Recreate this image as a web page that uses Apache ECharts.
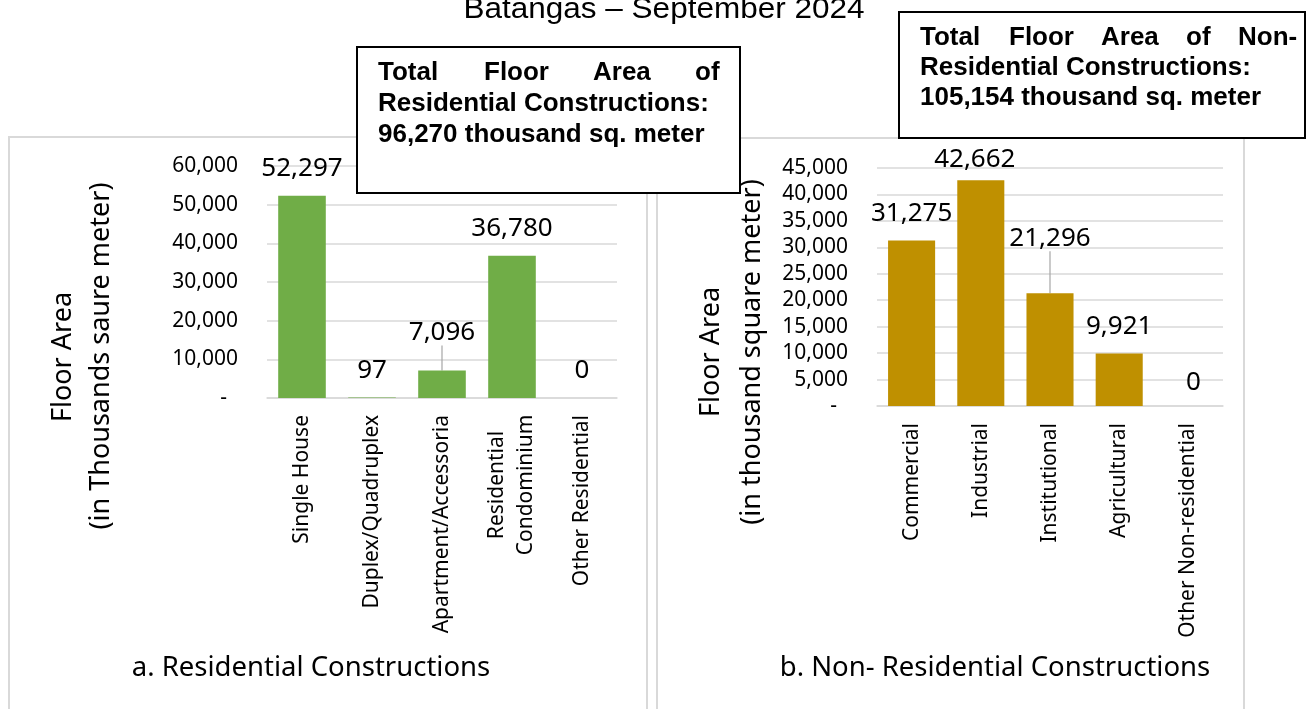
<!DOCTYPE html>
<html>
<head>
<meta charset="utf-8">
<script src="https://cdn.jsdelivr.net/npm/echarts@6/dist/echarts.min.js"></script>
<style>
  html, body { margin: 0; padding: 0; background: #fff; }
  #chart { width: 1310px; height: 709px; }
</style>
</head>
<body>
<div id="chart"></div>
<script>
// residential panel
const resCategories = ['Single House', 'Duplex/Quadruplex', 'Apartment/Accessoria', 'Residential\nCondominium', 'Other Residential'];
const resValues = [52297, 97, 7096, 36780, 0];
const resTicks = ['-', '10,000', '20,000', '30,000', '40,000', '50,000', '60,000'];
const resTotal = '96,270';

// non-residential panel
const nonResCategories = ['Commercial', 'Industrial', 'Institutional', 'Agricultural', 'Other Non-residential'];
const nonResValues = [31275, 42662, 21296, 9921, 0];
const nonResTicks = ['-', '5,000', '10,000', '15,000', '20,000', '25,000', '30,000', '35,000', '40,000', '45,000'];
const nonResTotal = '105,154';

const FONT = "'Noto Sans', sans-serif";
const ARIAL = "'Liberation Sans', Arial, sans-serif";
const GRID_LINE = '#d9d9d9';

// labels that Excel pushed away from their bars
const labelNudge = {
  'res-2': { dy: -11 },
  'non-1': { dx: -6, dy: 6 },
  'non-2': { dy: -28 },
  'non-4': { dx: 5, dy: 4 }
};
const withLeader = { 'res-2': true, 'non-2': true };

function catLabel(v) {
  if (v.indexOf('\n') < 0) return v;
  return v.split('\n').map(s => '{c|' + s + '}').join('\n');
}

function xAxisFor(idx, cats) {
  return {
    type: 'category',
    gridIndex: idx,
    data: cats,
    axisLine: { lineStyle: { color: GRID_LINE, width: 1.5 } },
    axisTick: { show: false },
    axisLabel: {
      interval: 0,
      rotate: 90,
      margin: 17,
      color: '#000',
      fontFamily: FONT,
      fontSize: 21,
      formatter: catLabel,
      rich: {
        c: { width: 140, align: 'center', color: '#000', fontFamily: FONT, fontSize: 21, lineHeight: 29 }
      }
    }
  };
}

function yAxisFor(idx, max, step, ticks) {
  return {
    type: 'value',
    gridIndex: idx,
    min: 0,
    max: max,
    interval: step,
    axisLine: { show: false },
    axisTick: { show: false },
    splitLine: { lineStyle: { color: GRID_LINE, width: 1.5 } },
    axisLabel: {
      margin: 29,
      color: '#000',
      fontFamily: FONT,
      fontSize: 21,
      formatter: (v, i) => (i === 0 ? ticks[0] + '  ' : ticks[i])
    }
  };
}

function barSeries(idx, key, values, color) {
  return {
    type: 'bar',
    xAxisIndex: idx,
    yAxisIndex: idx,
    barWidth: '68%',
    itemStyle: { color: color },
    data: values.map((v, i) => ({
      value: v,
      labelLine: { show: !!withLeader[key + '-' + i] }
    })),
    label: {
      show: true,
      position: 'top',
      distance: 14,
      color: '#000',
      fontFamily: FONT,
      fontSize: 26,
      formatter: p => p.value.toLocaleString('en-US')
    },
    labelLine: { lineStyle: { color: '#a6a6a6', width: 1.2 } },
    labelLayout: p => labelNudge[key + '-' + p.dataIndex] || {}
  };
}

function txt(x, y, text, opts) {
  return Object.assign({
    type: 'text',
    x: x,
    y: y,
    z: 20,
    style: Object.assign({
      text: text,
      fill: '#000',
      fontFamily: FONT,
      fontSize: 27,
      textAlign: 'center',
      textVerticalAlign: 'middle'
    }, opts.style || {})
  }, opts.el || {});
}

function boxLine(x, y, text) {
  return {
    type: 'text',
    x: x,
    y: y,
    z: 20,
    style: {
      text: text,
      fill: '#000',
      fontFamily: ARIAL,
      fontWeight: 'bold',
      fontSize: 26,
      textAlign: 'left',
      textVerticalAlign: 'middle'
    }
  };
}

const chart = echarts.init(document.getElementById('chart'));

const option = {
  animation: false,
  backgroundColor: '#fff',
  grid: [
    { left: 267, top: 166, width: 350, height: 232 },
    { left: 877, top: 168, width: 346, height: 238 }
  ],
  xAxis: [xAxisFor(0, resCategories), xAxisFor(1, nonResCategories)],
  yAxis: [yAxisFor(0, 60000, 10000, resTicks), yAxisFor(1, 45000, 5000, nonResTicks)],
  series: [
    barSeries(0, 'res', resValues, '#70ad47'),
    barSeries(1, 'non', nonResValues, '#bf9000')
  ],
  graphic: [
    // panel frames
    { type: 'rect', z: 1, shape: { x: 9, y: 137, width: 638, height: 620 },
      style: { fill: null, stroke: GRID_LINE, lineWidth: 2 } },
    { type: 'rect', z: 1, shape: { x: 657, y: 138, width: 587, height: 620 },
      style: { fill: null, stroke: GRID_LINE, lineWidth: 2 } },

    // page title (top cut off in the original)
    txt(664, 10, 'Batangas – September 2024', {
      el: { scaleX: 1.05 },
      style: { fontFamily: ARIAL, fontSize: 30 }
    }),

    // axis names
    txt(63, 357, 'Floor Area', { el: { rotation: Math.PI / 2 } }),
    txt(101, 356, '(in Thousands saure meter)', { el: { rotation: Math.PI / 2 } }),
    txt(711, 352, 'Floor Area', { el: { rotation: Math.PI / 2 } }),
    txt(752, 352, '(in thousand square meter)', { el: { rotation: Math.PI / 2 } }),

    // panel captions
    txt(311, 668, 'a. Residential Constructions', { style: { fontSize: 27.5 } }),
    txt(995, 668, 'b. Non- Residential Constructions', { style: { fontSize: 27.5 } }),

    // total boxes
    { type: 'rect', z: 15, shape: { x: 357, y: 47, width: 383, height: 146 },
      style: { fill: '#fff', stroke: '#000', lineWidth: 2 } },
    boxLine(378, 73, 'Total'),
    boxLine(484, 73, 'Floor'),
    boxLine(593, 73, 'Area'),
    boxLine(695, 73, 'of'),
    boxLine(378, 104, 'Residential Constructions:'),
    boxLine(378, 135, resTotal + ' thousand sq. meter'),

    { type: 'rect', z: 15, shape: { x: 899, y: 12, width: 406, height: 126 },
      style: { fill: '#fff', stroke: '#000', lineWidth: 2 } },
    boxLine(920, 38, 'Total'),
    boxLine(1009, 38, 'Floor'),
    boxLine(1101, 38, 'Area'),
    boxLine(1186, 38, 'of'),
    boxLine(1238, 38, 'Non-'),
    boxLine(920, 68, 'Residential Constructions:'),
    boxLine(920, 98, nonResTotal + ' thousand sq. meter')
  ]
};

chart.setOption(option);
</script>
</body>
</html>
